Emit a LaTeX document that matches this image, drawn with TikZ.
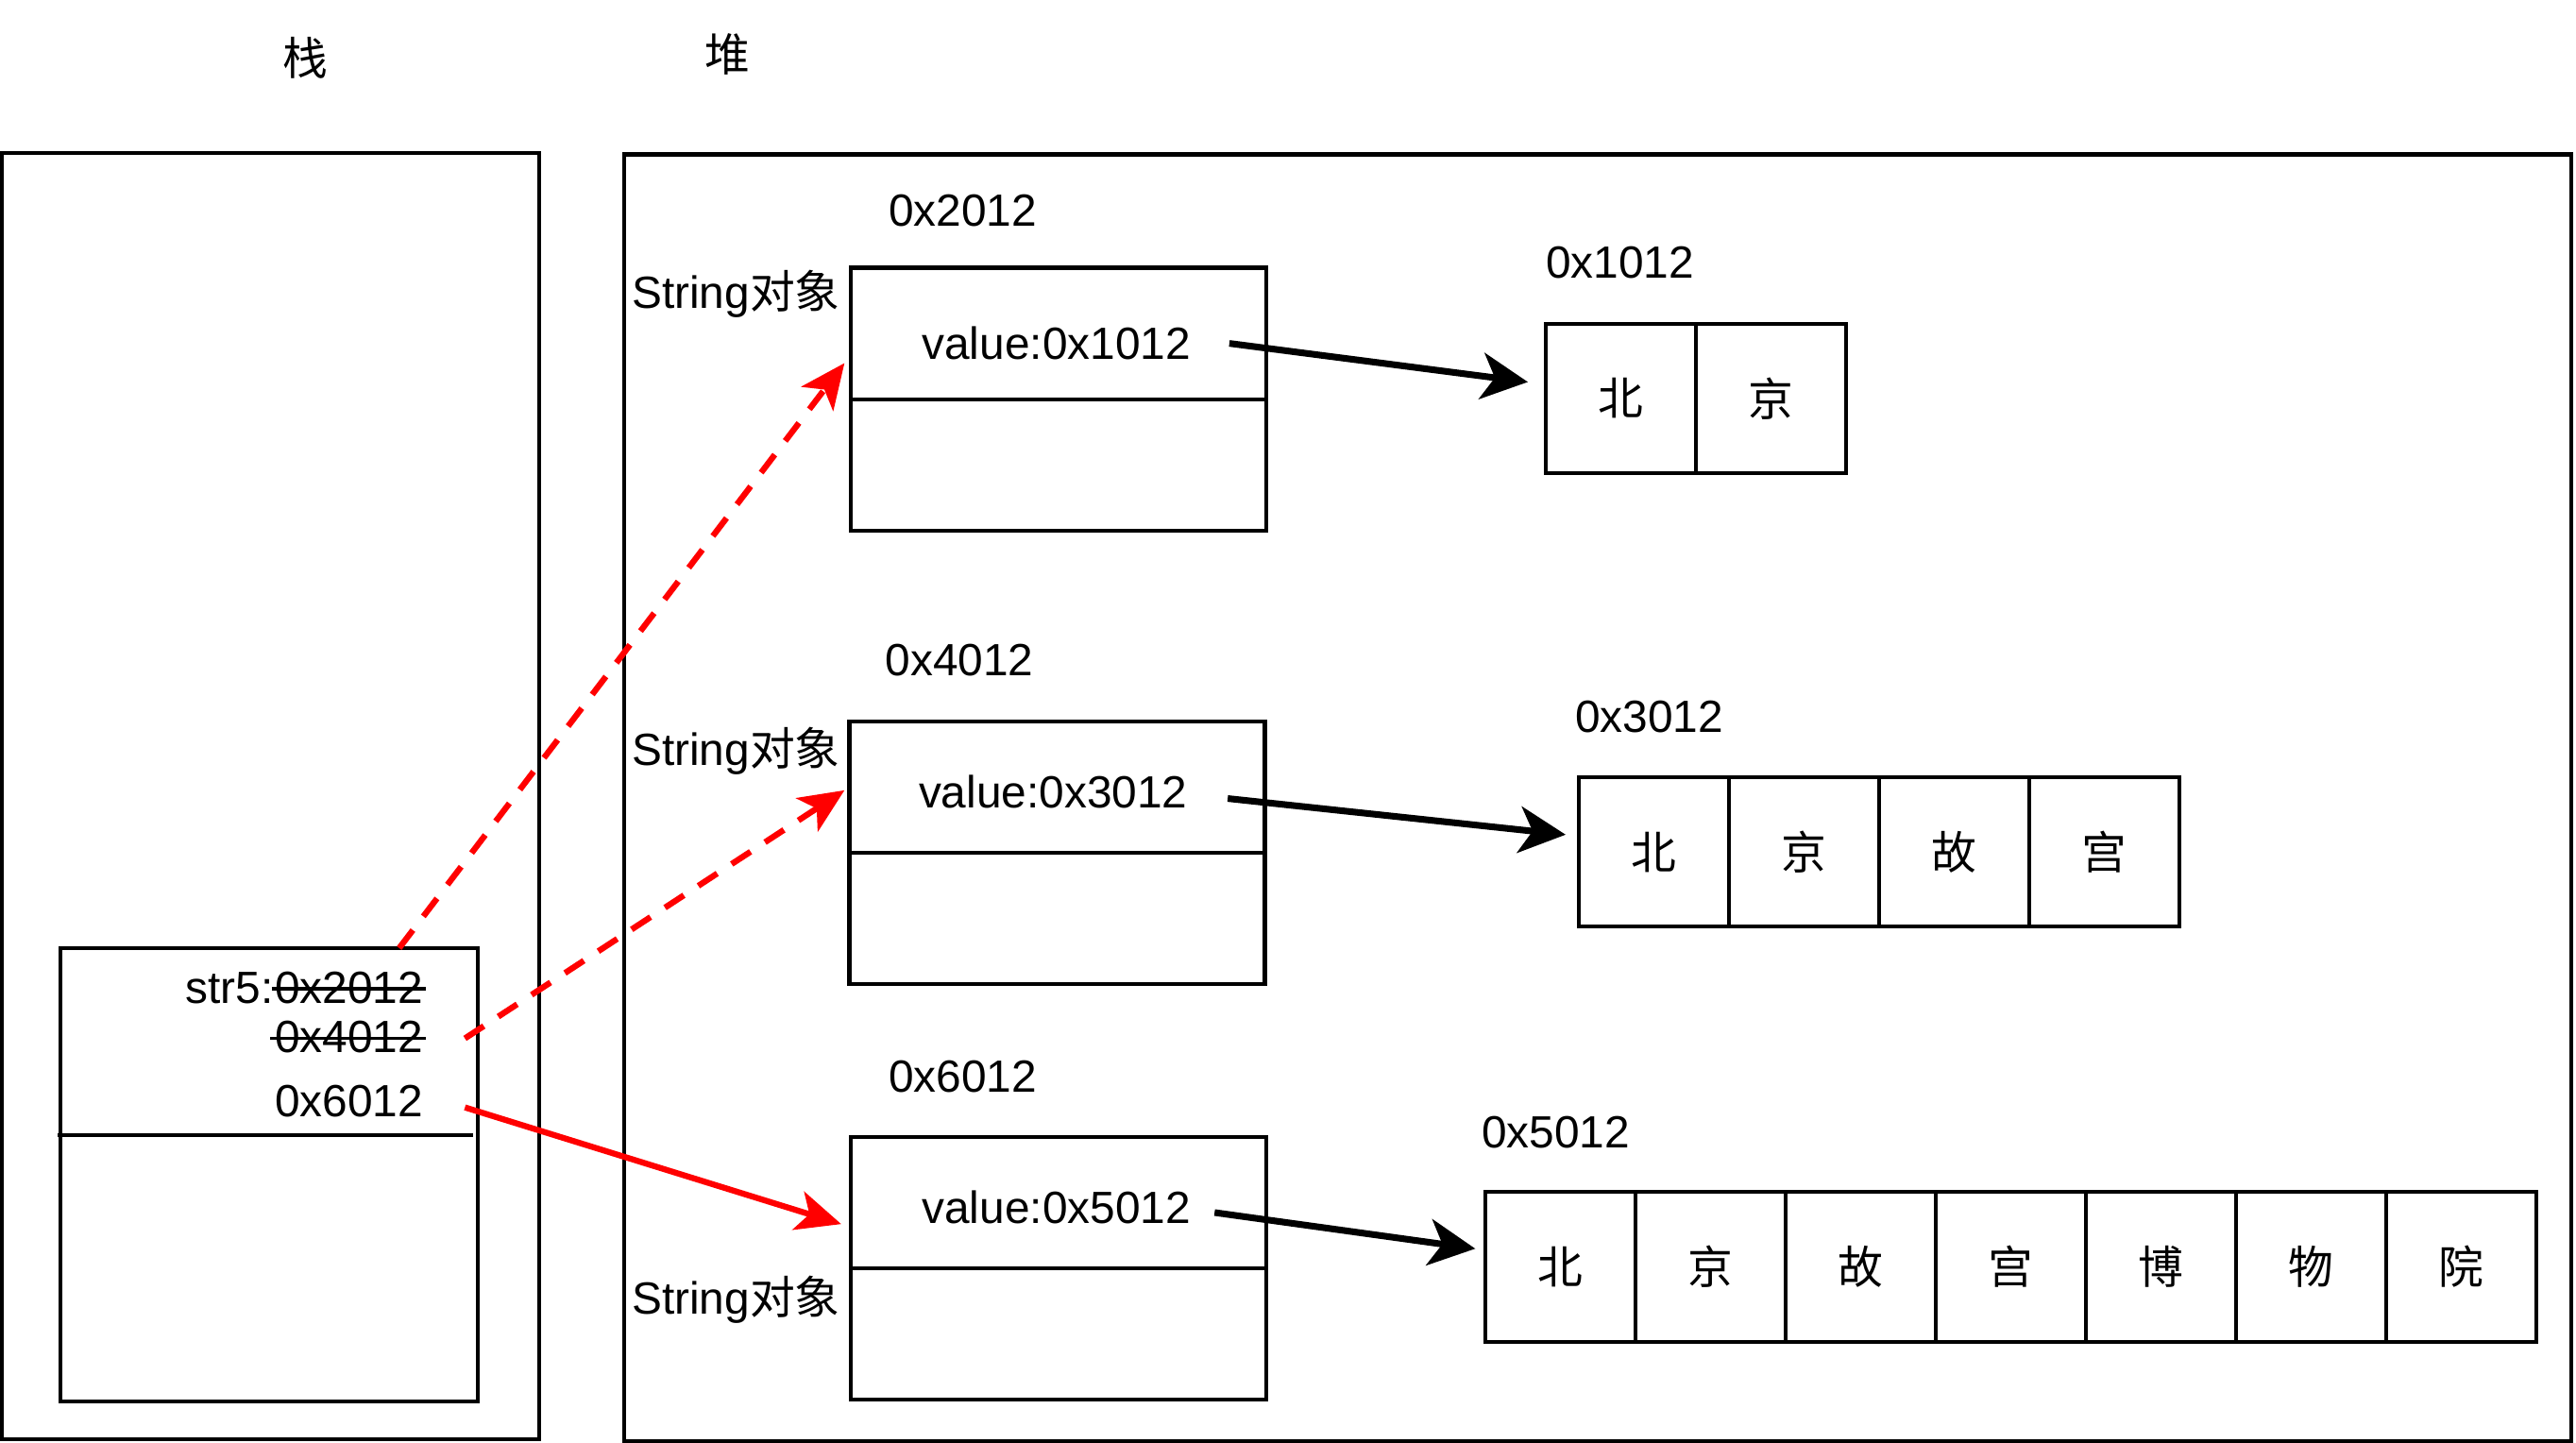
\documentclass[tikz,border=0pt]{standalone}
\usepackage{fontspec}
\setmainfont{Liberation Sans}
\newfontfamily\cjk{Noto Sans CJK SC}
\usetikzlibrary{arrows.meta,calc,positioning}

\begin{document}
\fontsize{13.6}{16}\selectfont
\begin{tikzpicture}[x=0.017398cm, y=-0.017398cm, >=Stealth,
    box/.style={line width=1.2pt},
    cell/.style={draw, line width=1.2pt, minimum width=1.59cm, minimum height=1.585cm,
        inner sep=0pt, outer sep=0pt, font=\cjk},
    half/.style={draw, line width=1.2pt, minimum width=4.40cm, minimum height=1.392cm,
        inner sep=0pt, outer sep=0pt},
    strike/.style={line width=0.9pt},
    ptr/.style={-{Stealth[length=14pt,width=14pt,inset=4pt]}, line width=2pt},
    ref/.style={-{Stealth[length=13.5pt,width=12pt,inset=3.5pt]}, line width=1.8pt, red},
    oldref/.style={ref, dash pattern=on 6.8pt off 5.2pt}]
    \useasboundingbox (0,0) rectangle (1568,878);

    % 栈和堆的外框
    \node (stk) at (186,35) {\cjk 栈};
    \node (hp) at (443,33) {\cjk 堆};
    \draw[box] (1,93) rectangle (328,876);
    \draw[box] (380,94) rectangle (1565,877);

    % 栈中的变量 str5
    \node[draw, line width=1.2pt, minimum width=4.419cm, minimum height=4.80cm, outer sep=0pt] (var) at (164,715) {};
    \draw[box] (35,691) -- (288,691);
    \node[anchor=east] (s1) at (267,601) {0x2012};
    \node[anchor=base east, inner xsep=0pt] (s0) at ([xshift=4.53pt]s1.base west) {str5:};
    \node[anchor=east] (s2) at (267,631) {0x4012};
    \node[anchor=east] (s3) at (267,670) {0x6012};
    % 划掉旧地址
    \draw[strike] ([xshift=3.8pt, yshift=4.3pt]s1.base west) -- ([xshift=-3.8pt, yshift=4.3pt]s1.base east);
    \draw[strike] ([xshift=3.3pt, yshift=4.3pt]s2.base west) -- ([xshift=-3.8pt, yshift=4.3pt]s2.base east);

    % 堆中的三个 String 对象
    \node[half] (o1) at (644.5,203) {};
    \node[half, below=0pt of o1] (o1b) {};
    \node (v1) at (643,209) {value:0x1012};
    \node (ad1) at (586,128) {0x2012};
    \node (t1) at (448,179) {String{\cjk 对象}};

    \node[half] (o2) at (643.5,479) {};
    \node[half, below=0pt of o2] (o2b) {};
    \node (v2) at (641,482) {value:0x3012};
    \node (ad2) at (584,402) {0x4012};
    \node (t2) at (448,457) {String{\cjk 对象}};

    \node[half] (o3) at (644.5,732) {};
    \node[half, below=0pt of o3] (o3b) {};
    \node (v3) at (643,735) {value:0x5012};
    \node (ad3) at (586,655) {0x6012};
    \node (t3) at (448,791) {String{\cjk 对象}};

    % 字符数组
    \node (ad4) at (986,160) {0x1012};
    \foreach \c [count=\i] in {北,京}
        \node[cell] (a\i) at ({941+91.4*(\i-0.5)},242.5) {\c};

    \node (ad5) at (1004,436) {0x3012};
    \foreach \c [count=\i] in {北,京,故,宫}
        \node[cell] (b\i) at ({961+91.4*(\i-0.5)},518.5) {\c};

    \node (ad6) at (947,689) {0x5012};
    \foreach \c [count=\i] in {北,京,故,宫,博,物,院}
        \node[cell] (c\i) at ({904+91.4*(\i-0.5)},771) {\c};

    % value 指向字符数组
    \draw[ptr] ($(v1.east)+(14,0)$) -- ($(a1.west)+(-11,-10)$);
    \draw[ptr] ($(v2.east)+(15,4)$) -- ($(b1.west)+(-8,-10.5)$);
    \draw[ptr] ($(v3.east)+(5,3)$) -- ($(c1.west)+(-6,-11)$);

    % str5 的引用（旧的为虚线）
    \draw[oldref] ($(var.north)+(79,0)$) -- ($(o1.west)+(-4,18)$);
    \draw[oldref] ($(s2.east)+(16,1)$) -- ($(o2.west)+(-3,2)$);
    \draw[ref] ($(s3.east)+(16,4)$) -- ($(o3.west)+(-6,13)$);
\end{tikzpicture}
\end{document}
